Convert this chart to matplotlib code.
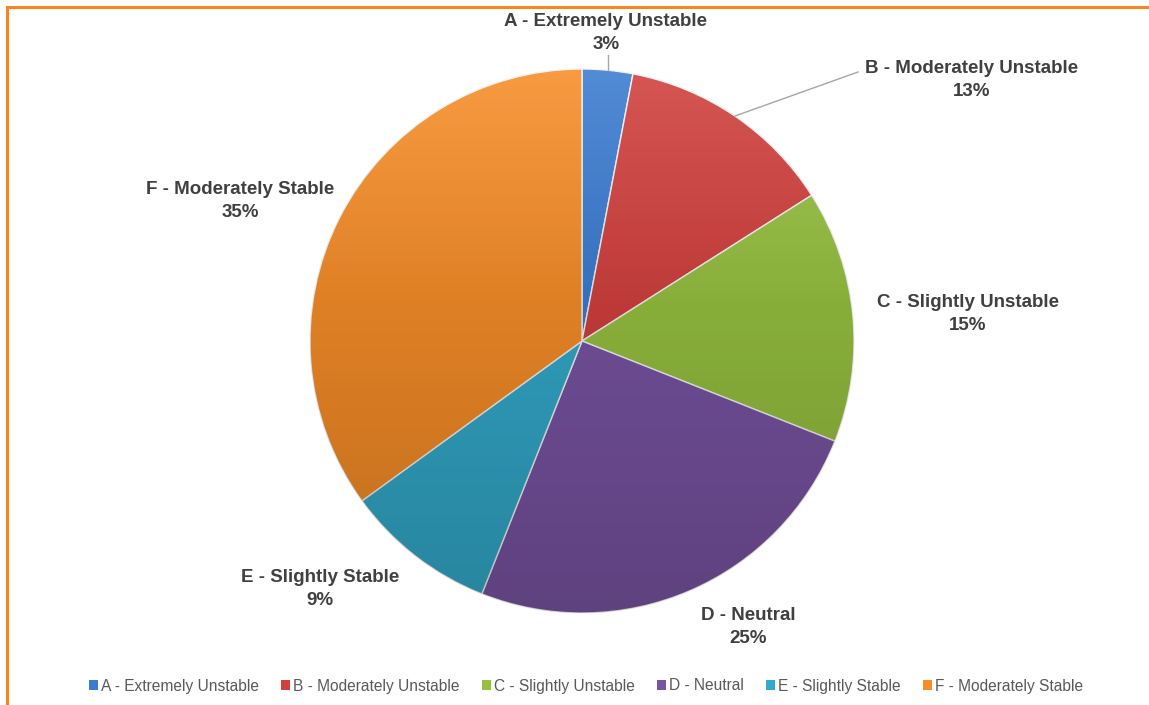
import matplotlib
matplotlib.use("Agg")
import matplotlib.pyplot as plt
import numpy as np
from matplotlib.patches import Patch, Circle
from matplotlib.lines import Line2D

# ---- data ----
categories = ["A - Extremely Unstable", "B - Moderately Unstable", "C - Slightly Unstable",
              "D - Neutral", "E - Slightly Stable", "F - Moderately Stable"]
values = [3, 13, 15, 25, 9, 35]
colors = ["#3b7bd0", "#d0403d", "#96c040", "#7954a3", "#33aacb", "#f68d28"]

# ---- layout (pixel-based) ----
W, H = 1149, 705
cx, cy, R = 582, H - 341, 272
# label offsets from pie center (pixels, y up)
label_off = [(24, 308), (390, 261), (386, 27), (166, -286), (-262, -248), (-342, 140)]
leader_end = {0: (0, 286), 1: (276, 269)}

plt.rcParams['font.family'] = ['Liberation Sans', 'DejaVu Sans']
fig = plt.figure(figsize=(W / 100, H / 100), dpi=100)
ax = fig.add_axes([0, 0, 1, 1])

wedges, _ = ax.pie(values, colors=colors, startangle=90, counterclock=False,
                   center=(cx, cy), radius=R,
                   wedgeprops=dict(edgecolor="#f2f2f2", linewidth=1.0))
ax.set_xlim(0, W)
ax.set_ylim(0, H)
ax.set_aspect("equal")
ax.axis("off")

# shading overlay (light at top, darker at bottom)
grad = np.linspace(0, 1, 256).reshape(-1, 1)
shade = np.zeros((256, 1, 4))
shade[..., 3] = grad * 0.22
img = ax.imshow(shade[::-1], extent=(cx - R, cx + R, cy - R, cy + R), origin="lower",
                aspect="auto", zorder=3, interpolation="bilinear")
img.set_clip_path(Circle((cx, cy), R, transform=ax.transData))
hi = np.zeros((256, 1, 4))
hi[..., :3] = 1.0
hi[..., 3] = np.clip(1 - grad * 2.2, 0, 1) * 0.12
img2 = ax.imshow(hi[::-1], extent=(cx - R, cx + R, cy - R, cy + R), origin="lower",
                 aspect="auto", zorder=3, interpolation="bilinear")
img2.set_clip_path(Circle((cx, cy), R, transform=ax.transData))
ax.set_xlim(0, W)
ax.set_ylim(0, H)

# labels
total = sum(values)
for i, (w, cat, v) in enumerate(zip(wedges, categories, values)):
    dx, dy = label_off[i]
    ax.text(cx + dx, cy + dy, f"{cat}\n{round(100 * v / total)}%", ha="center", va="center",
            fontsize=13.5, fontweight="bold", color="#404040", linespacing=1.5, zorder=5)
    if i in leader_end:
        ang = np.deg2rad((w.theta1 + w.theta2) / 2)
        x0, y0 = cx + R * np.cos(ang), cy + R * np.sin(ang)
        ex, ey = leader_end[i]
        if i == 0:
            ex = x0 - cx
        ax.plot([x0, cx + ex], [y0, cy + ey], color="#a6a6a6", lw=1.0, zorder=4)

# legend
handles = [Patch(facecolor=c, edgecolor="none") for c in colors]
leg = fig.legend(handles, categories, loc="center", bbox_to_anchor=(586 / W, 1 - 686 / H),
                 ncol=6, frameon=False, fontsize=11.2, handlelength=0.55, handleheight=0.55,
                 handletextpad=0.2, columnspacing=1.45, labelcolor="#595959")

# orange border (top and left)
fig.add_artist(Line2D([7 / W, 7 / W], [0, 1 - 7 / H], transform=fig.transFigure,
                      color="#f7861f", lw=2.2))
fig.add_artist(Line2D([7 / W, 1], [1 - 7 / H, 1 - 7 / H], transform=fig.transFigure,
                      color="#f7861f", lw=2.2))

fig.savefig("out.png", dpi=100)
